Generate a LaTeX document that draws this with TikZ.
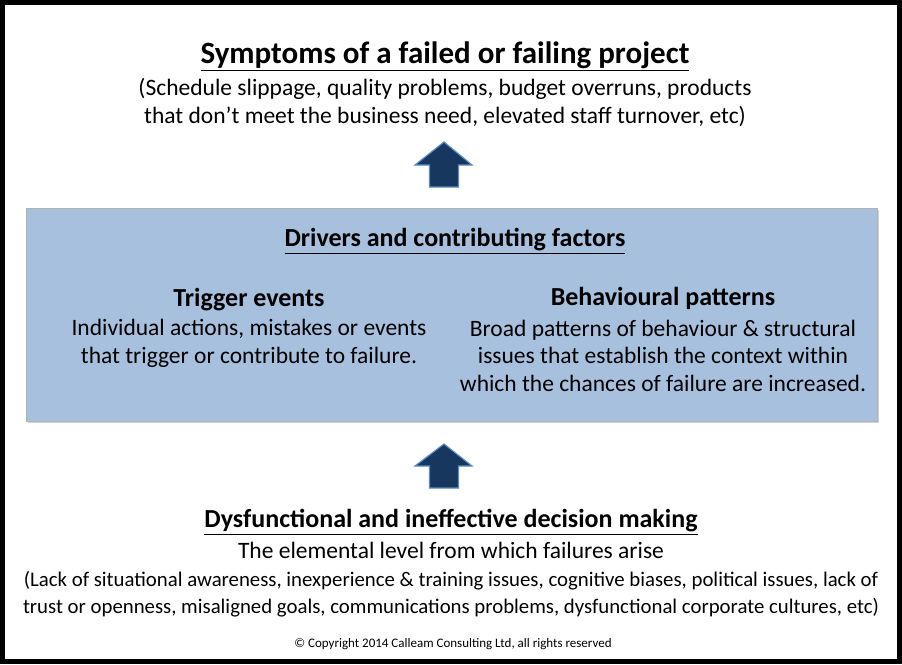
\documentclass[tikz,border=0pt]{standalone}
\usepackage{fontspec}
\setmainfont{Carlito}
\definecolor{boxblue}{HTML}{A7C0DE}
\definecolor{navy}{HTML}{17375E}
\definecolor{arrowedge}{HTML}{5B8CC8}
\begin{document}
\begin{tikzpicture}[x=1pt,y=-1pt,
  body/.style={inner sep=0pt, align=center, font=\fontsize{23.5}{27.5}\selectfont},
  head/.style={inner sep=0pt, align=center, font=\fontsize{26}{30}\selectfont\bfseries},
  small/.style={inner sep=0pt, align=center, font=\fontsize{20.8}{27}\selectfont},
  blockarrow/.style={fill=navy, draw=arrowedge, line width=1.2pt, line join=miter}]
\useasboundingbox (0,0) rectangle (902,664);
\fill[white] (0,0) rectangle (902,664);
\draw[line width=5pt] (2.5,2.5) rectangle (899.5,661.5);
% top section
\node[head, font=\fontsize{31}{34}\selectfont\bfseries] (title) at (445,56) {\underline{Symptoms of a failed or failing project}};
\node[body] (symp) at (445,102.5) {(Schedule slippage, quality problems, budget overruns, products\\that don’t meet the business need, elevated staff turnover, etc)};
% arrow 1
\draw[blockarrow] (444,142) -- (472,165) -- (458.5,165) -- (458.5,187) -- (429.5,187) -- (429.5,165) -- (415,165) -- cycle;
% middle box
\fill[gray!35] (28,210) rectangle (879,423);
\node[draw=gray!60, fill=boxblue, line width=0.8pt, minimum width=851pt, minimum height=213pt, inner sep=0pt, anchor=north west] (box) at (26,208) {};
\node[head] (drivers) at (455,241) {\underline{Drivers and contributing factors}};
\node[head] (trig) at (249,300) {Trigger events};
\node[body] (trigtext) at (249,343.5) {Individual actions, mistakes or events\\that trigger or contribute to failure.};
\node[head] (beh) at (663,298) {Behavioural patterns};
\node[body] (behtext) at (663,355.5) {Broad patterns of behaviour \& structural\\issues that establish the context within\\which the chances of failure are increased.};
% arrow 2
\draw[blockarrow] (444,444) -- (472,466) -- (458.5,466) -- (458.5,488) -- (429.5,488) -- (429.5,466) -- (415,466) -- cycle;
% bottom section
\node[head] (dys) at (451,522) {\underline{Dysfunctional and ineffective decision making}};
\node[body] (elem) at (451,550) {The elemental level from which failures arise};
\node[small] (lack) at (451,594) {(Lack of situational awareness, inexperience \& training issues, cognitive biases, political issues, lack of\\trust or openness, misaligned goals, communications problems, dysfunctional corporate cultures, etc)};
\node[inner sep=0pt, font=\fontsize{13}{15}\selectfont] (copy) at (453,644) {© Copyright 2014 Calleam Consulting Ltd, all rights reserved};
\end{tikzpicture}
\end{document}
